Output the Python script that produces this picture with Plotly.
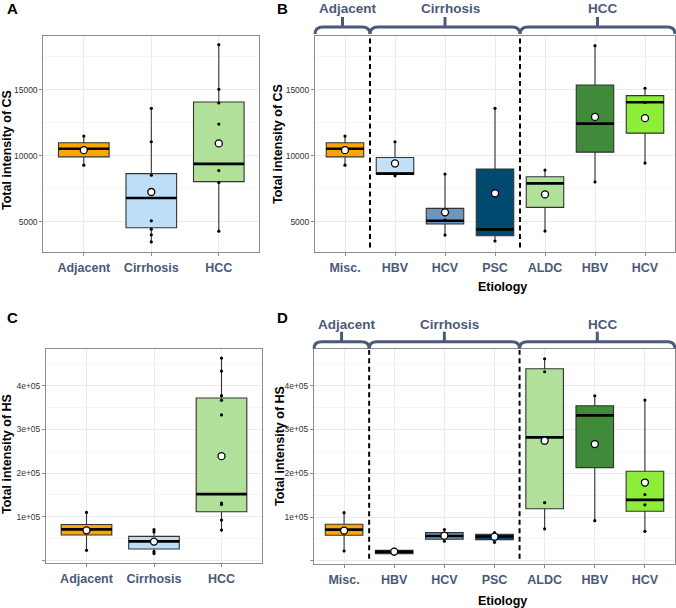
import plotly.graph_objects as go

W, H = 676, 608

# ---------------- DATA ----------------
# Panel A: CS by group
cs_groups = ["Adjacent", "Cirrhosis", "HCC"]
cs_group_q1 = [9924, 4539, 8044]
cs_group_median = [10533, 6800, 9390]
cs_group_q3 = [10990, 8654, 14086]
cs_group_low = [9289, 3472, 4285]
cs_group_high = [11497, 13607, 18430]
cs_group_mean = [10432, 7257, 10940]
cs_group_points = [
    [11497, 9289],
    [13607, 11067, 8527, 5072, 4437, 4005, 3472],
    [18430, 15050, 14010, 12413, 8882, 7968, 4285],
]

# Panel B: CS by etiology
etiology_labels = ["Misc.", "HBV", "HCV", "PSC", "ALDC", "HBV", "HCV"]
etiology_group_names = ["Adjacent", "Cirrhosis", "HCC"]
etiology_group_sizes = [1, 3, 3]
cs_et_q1 = [9924, 8614, 4826, 3939, 6091, 10280, 11720]
cs_et_median = [10533, 8654, 5078, 4424, 7909, 12447, 14068]
cs_et_q3 = [10990, 9879, 6015, 8992, 8409, 15379, 14570]
cs_et_low = [9289, 8485, 3992, 3538, 4295, 8019, 9447]
cs_et_high = [11497, 11067, 8614, 13607, 8917, 18356, 15129]
cs_et_mean = [10432, 9422, 5712, 7152, 7076, 12955, 12856]
cs_et_points = [
    [11497, 9289],
    [11067, 8485],
    [8614, 5129, 3992],
    [13607, 3538],
    [8917, 4295],
    [18356, 8019],
    [15129, 14038, 9447],
]

# Panel C: HS by group
hs_group_q1 = [58200, 26200, 111400]
hs_group_median = [71000, 43600, 151800]
hs_group_q3 = [82000, 55000, 371800]
hs_group_low = [23000, 15500, 69500]
hs_group_high = [109900, 70300, 463200]
hs_group_mean = [68800, 43000, 238600]
hs_group_points = [
    [109900, 23000],
    [70300, 65000, 20000, 15500],
    [463200, 433500, 377200, 366500, 333000, 131200, 128200, 92400, 69500],
]

# Panel D: HS by etiology
hs_et_q1 = [58200, 16400, 49000, 48400, 119000, 212900, 113300]
hs_et_median = [71200, 20900, 56600, 55500, 282000, 332200, 139200]
hs_et_q3 = [83300, 24000, 64300, 60500, 438800, 354300, 204600]
hs_et_low = [22300, 15500, 44600, 42100, 73000, 91600, 67300]
hs_et_high = [110000, 26100, 71200, 64300, 461700, 377200, 367300]
hs_et_mean = [68900, 20900, 57300, 55000, 274400, 266700, 178800]
hs_et_points = [
    [110000, 22300],
    [26100, 15500],
    [71200, 44600],
    [64300, 42100],
    [461700, 432000, 132700, 73000],
    [377200, 91600],
    [367300, 151400, 127800, 67300],
]

# Axis ticks
cs_tickvals = [5000, 10000, 15000]
cs_ticktext = ["5000", "10000", "15000"]
cs_minor = [7500, 12500, 17500]
hs_tickvals = [0, 100000, 200000, 300000, 400000]
hs_ticktext = ["", "1e+05", "2e+05", "3e+05", "4e+05"]
hs_minor = [50000, 150000, 250000, 350000, 450000]

group_colors = ["#FFA500", "#BEDDF6", "#B1E09B"]
etiology_colors = ["#FFA500", "#C3E0F7", "#6B96BE", "#00496F", "#B1E09B", "#3F8B3A", "#8CEE38"]

# ---------------- STYLE ----------------
FONT = "Liberation Sans, Arial, sans-serif"
LABEL_COL = "#4A5A78"
BOX_W = 0.75


def X(px):
    return px / W


def Y(py):
    return 1 - py / H


fig = go.Figure()
shapes = []
annotations = []


def add_panel(idx, labels, q1, med, q3, lo, hi, mean, pts, colors,
              xpx, ypx, yrange, tickvals, ticktext, minor):
    xa = "x" if idx == 1 else f"x{idx}"
    ya = "y" if idx == 1 else f"y{idx}"
    n = len(labels)
    pos = list(range(1, n + 1))
    for i in range(n):
        fig.add_trace(go.Box(
            x=[pos[i]], q1=[q1[i]], median=[med[i]], q3=[q3[i]],
            lowerfence=[lo[i]], upperfence=[hi[i]],
            width=BOX_W, fillcolor=colors[i],
            line=dict(color="#333333", width=1.1), whiskerwidth=0,
            boxpoints=False, xaxis=xa, yaxis=ya, showlegend=False,
            hoverinfo="skip"))
    mx, my = [], []
    for i in range(n):
        mx += [pos[i] - BOX_W / 2, pos[i] + BOX_W / 2, None]
        my += [med[i], med[i], None]
    fig.add_trace(go.Scatter(x=mx, y=my, mode="lines",
                             line=dict(color="black", width=2.6),
                             xaxis=xa, yaxis=ya, showlegend=False, hoverinfo="skip"))
    px_, py_ = [], []
    for i in range(n):
        for v in pts[i]:
            px_.append(pos[i])
            py_.append(v)
    fig.add_trace(go.Scatter(x=px_, y=py_, mode="markers",
                             marker=dict(color="black", size=3.2),
                             xaxis=xa, yaxis=ya, showlegend=False, hoverinfo="skip"))
    fig.add_trace(go.Scatter(x=pos, y=mean, mode="markers",
                             marker=dict(color="white", size=7, line=dict(color="black", width=1.3)),
                             xaxis=xa, yaxis=ya, showlegend=False, hoverinfo="skip"))
    key = "" if idx == 1 else str(idx)
    fig.update_layout(**{
        "xaxis" + key: dict(
            domain=[X(xpx[0]), X(xpx[1])], range=[0.4, n + 0.6], anchor=ya,
            tickvals=pos, ticktext=labels,
            tickfont=dict(family=FONT, size=12.5, color=LABEL_COL, weight="bold"),
            showgrid=True, gridcolor="#EBEBEB", gridwidth=1,
            showline=True, mirror=True, linecolor="#8C8C8C", linewidth=1,
            ticks="outside", ticklen=3, tickcolor="#8C8C8C", zeroline=False,
            ticklabelstandoff=1),
        "yaxis" + key: dict(
            domain=[Y(ypx[1]), Y(ypx[0])], range=yrange, anchor=xa,
            tickvals=tickvals, ticktext=ticktext,
            tickfont=dict(family=FONT, size=8.5, color="#333333"),
            showgrid=True, gridcolor="#EBEBEB", gridwidth=1,
            minor=dict(tickvals=minor, showgrid=True, gridcolor="#F6F6F6", ticks=""),
            showline=True, mirror=True, linecolor="#8C8C8C", linewidth=1,
            ticks="outside", ticklen=3, tickcolor="#8C8C8C", zeroline=False),
    })
    return xa, ya


def add_braces(xpx, xrange_, sizes, names, y_label, y_top, y_h, y_end, xa, ya, ydom):
    L, R = xpx
    r0, r1 = xrange_

    def dpx(v):
        return L + (v - r0) / (r1 - r0) * (R - L)

    edges = [r0]
    c = 0.5
    for s in sizes:
        c += s
        edges.append(c)
    edges[-1] = r1
    for k in range(len(sizes)):
        a, b = dpx(edges[k]), dpx(edges[k + 1])
        cx = (a + b) / 2
        rr = 8
        path = (f"M {X(a)},{Y(y_end)} Q {X(a)},{Y(y_h)} {X(a + rr)},{Y(y_h)} "
                f"L {X(b - rr)},{Y(y_h)} Q {X(b)},{Y(y_h)} {X(b)},{Y(y_end)} "
                f"M {X(cx)},{Y(y_h)} L {X(cx)},{Y(y_top)}")
        shapes.append(dict(type="path", path=path, xref="paper", yref="paper",
                           line=dict(color=LABEL_COL, width=3),
                           fillcolor="rgba(0,0,0,0)", layer="above"))
        annotations.append(dict(text=names[k], x=X(cx + 5), y=Y(y_label), xref="paper", yref="paper",
                                showarrow=False, xanchor="center", yanchor="middle",
                                font=dict(family=FONT, size=13.5, color=LABEL_COL, weight="bold")))
        if k < len(sizes) - 1:
            shapes.append(dict(type="line", xref=xa, yref=ya + " domain",
                               x0=edges[k + 1], x1=edges[k + 1], y0=ydom[0], y1=ydom[1],
                               line=dict(color="black", width=2, dash="5px,3.5px"), layer="above"))


def letter(t, x, y):
    annotations.append(dict(text=t, x=X(x), y=Y(y), xref="paper", yref="paper",
                            showarrow=False, xanchor="center", yanchor="middle",
                            font=dict(family=FONT, size=15, color="black", weight="bold")))


def ytitle(t, x, y):
    annotations.append(dict(text=t, x=X(x), y=Y(y), xref="paper", yref="paper",
                            showarrow=False, xanchor="center", yanchor="middle", textangle=-90,
                            font=dict(family=FONT, size=12.5, color="black", weight="bold")))


def xtitle(t, x, y):
    annotations.append(dict(text=t, x=X(x), y=Y(y), xref="paper", yref="paper",
                            showarrow=False, xanchor="center", yanchor="middle",
                            font=dict(family=FONT, size=12.5, color="black", weight="bold")))


cs_range = [2727, 19114]
hs_range_c = [-6000, 484000]
hs_range_d = [-7400, 484000]

# Panel A
add_panel(1, cs_groups, cs_group_q1, cs_group_median, cs_group_q3, cs_group_low, cs_group_high,
          cs_group_mean, cs_group_points, group_colors, (43.3, 259.3), (35.7, 251.7),
          cs_range, cs_tickvals, cs_ticktext, cs_minor)
# Panel B
xa, ya = add_panel(2, etiology_labels, cs_et_q1, cs_et_median, cs_et_q3, cs_et_low, cs_et_high,
                   cs_et_mean, cs_et_points, etiology_colors, (315, 675), (35.7, 251.7),
                   cs_range, cs_tickvals, cs_ticktext, cs_minor)
add_braces((315, 675), (0.4, 7.6), etiology_group_sizes, etiology_group_names,
           9, 17, 27, 34, xa, ya, (0.02, 0.994))
# Panel C
add_panel(3, cs_groups, hs_group_q1, hs_group_median, hs_group_q3, hs_group_low, hs_group_high,
          hs_group_mean, hs_group_points, group_colors, (46, 262), (349, 563),
          hs_range_c, hs_tickvals, hs_ticktext, hs_minor)
# Panel D
xa, ya = add_panel(4, etiology_labels, hs_et_q1, hs_et_median, hs_et_q3, hs_et_low, hs_et_high,
                   hs_et_mean, hs_et_points, etiology_colors, (314, 675), (349, 564),
                   hs_range_d, hs_tickvals, hs_ticktext, hs_minor)
add_braces((314, 675), (0.4, 7.6), etiology_group_sizes, etiology_group_names,
           324, 331.7, 341.7, 348.5, xa, ya, (0.024, 0.995))

letter("A", 12, 8)
letter("B", 282, 8)
letter("C", 12, 317)
letter("D", 282, 317)

ytitle("Total intensity of CS", 7, 150)
ytitle("Total intensity of CS", 278, 144)
ytitle("Total intensity of HS", 7, 454)
ytitle("Total intensity of HS", 280, 446)
xtitle("Etiology", 502, 287)
xtitle("Etiology", 502, 601)

fig.update_layout(
    width=W, height=H, margin=dict(l=0, r=0, t=0, b=0),
    paper_bgcolor="white", plot_bgcolor="white",
    shapes=shapes, annotations=annotations, showlegend=False,
    font=dict(family=FONT),
)

fig.write_html("out.html", config={"displayModeBar": False},
               post_script="document.body.style.margin='0';document.body.style.overflow='hidden';")
